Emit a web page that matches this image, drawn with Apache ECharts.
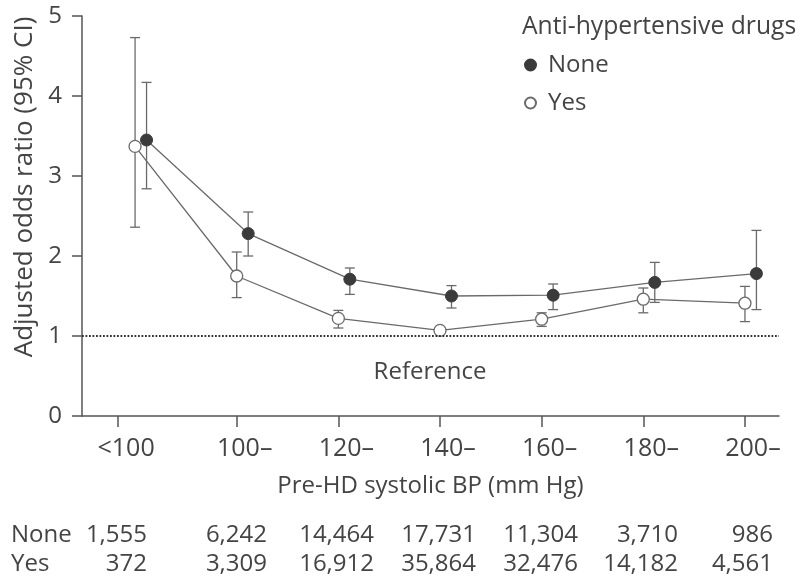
<!DOCTYPE html>
<html>
<head>
<meta charset="utf-8">
<script src="https://cdn.jsdelivr.net/npm/echarts@6/dist/echarts.min.js"></script>
<style>
html,body{margin:0;padding:0;background:#fff;}
#chart{width:800px;height:586px;}
</style>
</head>
<body>
<div id="chart"></div>
<script>
// ---- data ----
var categories = ['<100', '100\u2013', '120\u2013', '140\u2013', '160\u2013', '180\u2013', '200\u2013'];
var noneOR   = [3.45, 2.28, 1.71, 1.50, 1.51, 1.67, 1.78];
var noneLow  = [2.84, 2.00, 1.52, 1.35, 1.33, 1.42, 1.33];
var noneHigh = [4.17, 2.55, 1.85, 1.63, 1.65, 1.92, 2.32];
var yesOR    = [3.37, 1.75, 1.22, 1.07, 1.21, 1.46, 1.41];
var yesLow   = [2.36, 1.48, 1.10, 1.03, 1.12, 1.29, 1.18];
var yesHigh  = [4.73, 2.05, 1.32, 1.11, 1.29, 1.60, 1.62];
var noneN = ['1,555', '6,242', '14,464', '17,731', '11,304', '3,710', '986'];
var yesN  = ['372', '3,309', '16,912', '35,864', '32,476', '14,182', '4,561'];
var yTicks = [0, 1, 2, 3, 4, 5];
var referenceOR = 1;

// ---- styling constants ----
var FONT = 'Open Sans';
var TXT = '#444';
var AX = '#555';
var LINE = '#6a6a6a';
var noneOffset = 0.113;          // horizontal dodge of the "None" group
var firstTickShift = -0.167;     // the "<100" tick sits left of its points
var tickVals = categories.map(function (c, i) { return i === 0 ? firstTickShift : i; });

function pts(vals, off) { return vals.map(function (v, i) { return [i + off, v]; }); }
function errs(lo, hi, off) { return lo.map(function (l, i) { return [i + off, l, hi[i]]; }); }

function errRender(params, api) {
  var x = api.value(0);
  var p1 = api.coord([x, api.value(1)]);
  var p2 = api.coord([x, api.value(2)]);
  var w = 5;
  var st = { stroke: LINE, lineWidth: 1.3 };
  return {
    type: 'group',
    children: [
      { type: 'line', shape: { x1: p1[0], y1: p1[1], x2: p2[0], y2: p2[1] }, style: st },
      { type: 'line', shape: { x1: p1[0] - w, y1: p1[1], x2: p1[0] + w, y2: p1[1] }, style: st },
      { type: 'line', shape: { x1: p2[0] - w, y1: p2[1], x2: p2[0] + w, y2: p2[1] }, style: st }
    ]
  };
}

var chart = echarts.init(document.getElementById('chart'), null, { renderer: 'canvas' });

var tableTexts = [];
var colRight = [147, 267, 374, 476, 578, 678, 773];
var TFONT = '24px ' + FONT;
tableTexts.push({ type: 'text', x: 11, y: 535, style: { text: 'None', font: TFONT, fill: TXT, align: 'left', verticalAlign: 'middle' } });
tableTexts.push({ type: 'text', x: 11, y: 564, style: { text: 'Yes', font: TFONT, fill: TXT, align: 'left', verticalAlign: 'middle' } });
noneN.forEach(function (t, i) {
  tableTexts.push({ type: 'text', x: colRight[i], y: 535, style: { text: t, font: TFONT, fill: TXT, align: 'right', verticalAlign: 'middle' } });
});
yesN.forEach(function (t, i) {
  tableTexts.push({ type: 'text', x: colRight[i], y: 564, style: { text: t, font: TFONT, fill: TXT, align: 'right', verticalAlign: 'middle' } });
});

var option = {
  backgroundColor: '#fff',
  animation: false,
  textStyle: { fontFamily: FONT },
  title: {
    text: 'Anti-hypertensive drugs',
    left: 522, top: 12,
    padding: 0,
    textStyle: { fontFamily: FONT, fontSize: 24.7, fontWeight: 'normal', color: TXT, lineHeight: 30 }
  },
  legend: {
    orient: 'vertical',
    left: 524, top: 50,
    padding: 0,
    itemGap: 8,
    itemWidth: 11, itemHeight: 11,
    icon: 'circle',
    data: ['None', 'Yes'],
    textStyle: { fontFamily: FONT, fontSize: 24, color: TXT, lineHeight: 30, padding: [0, 0, 0, 7] }
  },
  grid: { left: 82, right: 21, top: 16, bottom: 170, containLabel: false },
  xAxis: {
    type: 'value',
    min: -0.522, max: 6.335,
    name: 'Pre-HD systolic BP (mm Hg)',
    nameLocation: 'middle',
    nameGap: 58,
    nameTextStyle: { fontFamily: FONT, fontSize: 24, color: TXT },
    axisLine: { show: true, onZero: false, lineStyle: { color: AX, width: 1.5 } },
    axisTick: { show: true, length: 11, customValues: tickVals, lineStyle: { color: AX, width: 1.5 } },
    axisLabel: {
      customValues: tickVals,
      margin: 20,
      fontFamily: FONT, fontSize: 25, color: TXT,
      padding: [0, 0, 0, 16],
      formatter: function (v) {
        var best = 0, d = 1e9;
        tickVals.forEach(function (t, i) { if (Math.abs(t - v) < d) { d = Math.abs(t - v); best = i; } });
        return categories[best];
      }
    },
    splitLine: { show: false }
  },
  yAxis: {
    type: 'value',
    min: yTicks[0], max: yTicks[yTicks.length - 1], interval: 1,
    axisLine: { show: true, onZero: false, lineStyle: { color: AX, width: 1.5 } },
    axisTick: { show: true, length: 10, lineStyle: { color: AX, width: 1.5 } },
    axisLabel: { margin: 20, fontFamily: FONT, fontSize: 24, color: TXT },
    splitLine: { show: false }
  },
  graphic: [
    { type: 'text', x: 25, y: 187, rotation: Math.PI / 2,
      style: { text: 'Adjusted odds ratio (95% CI)', font: '26px ' + FONT, fill: TXT, align: 'center', verticalAlign: 'middle' } },
    { type: 'text', x: 430, y: 372,
      style: { text: 'Reference', font: '24px ' + FONT, fill: TXT, align: 'center', verticalAlign: 'middle' } }
  ].concat(tableTexts),
  series: [
    {
      type: 'custom', name: 'noneErr', renderItem: errRender, z: 1, silent: true,
      data: errs(noneLow, noneHigh, noneOffset), encode: { x: 0, y: [1, 2] }
    },
    {
      type: 'custom', name: 'yesErr', renderItem: errRender, z: 1, silent: true,
      data: errs(yesLow, yesHigh, 0), encode: { x: 0, y: [1, 2] }
    },
    {
      type: 'line', name: 'None', z: 3,
      data: pts(noneOR, noneOffset),
      symbol: 'circle', symbolSize: 12,
      lineStyle: { color: LINE, width: 1.3 },
      itemStyle: { color: '#3b3b3b', borderColor: '#3b3b3b', borderWidth: 1 },
      markLine: {
        silent: true, symbol: 'none',
        label: { show: false },
        lineStyle: { color: '#333', width: 2, type: [1.8, 1.7] },
        data: [{ yAxis: referenceOR }]
      }
    },
    {
      type: 'line', name: 'Yes', z: 3,
      data: pts(yesOR, 0),
      symbol: 'circle', symbolSize: 12,
      lineStyle: { color: LINE, width: 1.3 },
      itemStyle: { color: '#fff', borderColor: LINE, borderWidth: 1.3 }
    }
  ]
};
chart.setOption(option);
</script>
</body>
</html>
